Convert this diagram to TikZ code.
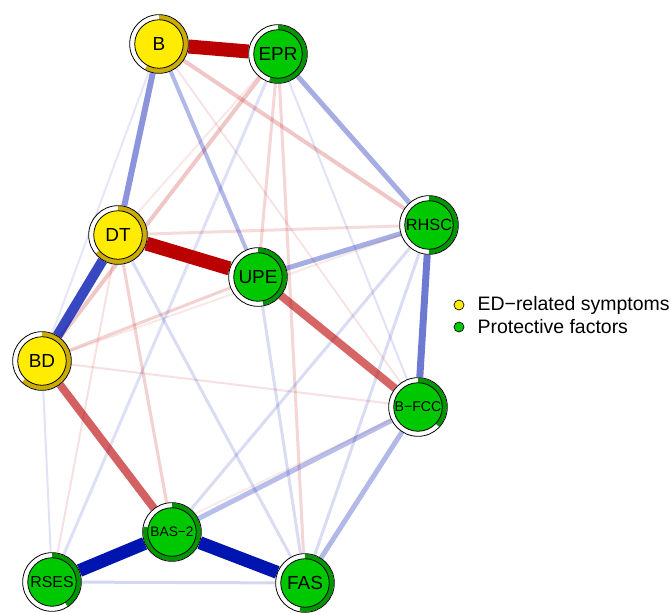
\documentclass[tikz,border=0pt]{standalone}
\usepackage{fontspec}
\setmainfont{Liberation Sans}
\usepackage{tikz}
\usetikzlibrary{calc,backgrounds,positioning}
\definecolor{symfill}{RGB}{255,236,0}
\definecolor{symarc}{RGB}{204,172,0}
\definecolor{protfill}{RGB}{0,200,0}
\definecolor{protarc}{RGB}{0,150,0}
\definecolor{posc}{RGB}{0,20,175}
\definecolor{negc}{RGB}{186,0,0}

% ring of a node: dark arc from the top, clockwise, then the inner disc
\newcommand{\ringpart}[3]{%
  \fill[#1] ($(path picture bounding box.center)+(90:21.7pt)$)
    arc[start angle=90,end angle={90-360*#3},radius=21.7pt]
    -- ($(path picture bounding box.center)+({90-360*#3}:18.2pt)$)
    arc[start angle={90-360*#3},end angle=90,radius=18.2pt] -- cycle;
  \draw[fill=#2,line width=0.6pt] (path picture bounding box.center) circle[radius=18.2pt];}

\tikzset{
  sym/.style={pienode,path picture={\ringpart{symarc}{symfill}{#1}}},
  prot/.style={pienode,path picture={\ringpart{protarc}{protfill}{#1}}},
  poscor/.style 2 args={draw=posc,line width=#1*0.75pt,draw opacity=#2},
  negcor/.style 2 args={draw=negc,line width=#1*0.75pt,draw opacity=#2}
}

\begin{document}
\begin{tikzpicture}[x=0.75pt,y=-0.75pt]
    \tikzstyle{pienode}=[circle,draw=black,fill=white,line width=0.6pt,minimum size=44pt,inner sep=0pt,font=\fontsize{14.2}{15}\selectfont]
    \tikzstyle{legdot}=[circle,draw=black,line width=0.5pt,minimum size=7.5pt,inner sep=0pt]
    \useasboundingbox (0,0) rectangle (671,613);

    \node[sym=0.58] (B) at (159,44) {B};
    \node[prot=0.55] (EPR) at (278,54) {EPR};
    \node[sym=0.64] (DT) at (118,235) {DT};
    \node[prot=0.47] (UPE) at (258,277) {UPE};
    \node[prot=0.5,font=\fontsize{12.2}{13}\selectfont] (RHSC) at (429,225) {RHSC};
    \node[sym=0.62] (BD) at (42,361) {BD};
    \node[prot=0.37,font=\fontsize{10.6}{11}\selectfont] (BFCC) at (418,407) {B−FCC};
    \node[prot=0.78,font=\fontsize{10.3}{11}\selectfont] (BAS) at (172,532) {BAS−2};
    \node[prot=0.41,font=\fontsize{11.9}{12}\selectfont] (RSES) at (52,582) {RSES};
    \node[prot=0.53] (FAS) at (305,583) {FAS};

    % legend
    \node[legdot,fill=symfill] (legsym) at (459,305) {};
    \node[legdot,fill=protfill] (legprot) at (459,327) {};
    \node[right=9.75pt of legsym,inner sep=0pt,font=\fontsize{14.6}{15}\selectfont] (legsymtext) {ED−related symptoms};
    \node[right=9.75pt of legprot,inner sep=0pt,font=\fontsize{14.6}{15}\selectfont] (legprottext) {Protective factors};

    \begin{scope}[on background layer]
    \path
    (B) edge [poscor={2}{0.1}] (BD)
    (EPR) edge [negcor={2}{0.09}] (DT)
    (BD) edge [negcor={2}{0.09}] (RHSC)
    (RSES) edge [negcor={2}{0.08}] (BFCC)
    (BD) edge [negcor={2}{0.12}] (BFCC)
    (B) edge [negcor={2}{0.11}] (BFCC)
    (BD) edge [poscor={2}{0.12}] (RSES)
    (DT) edge [negcor={2}{0.12}] (RSES)
    (EPR) edge [poscor={2}{0.12}] (BFCC)
    (EPR) edge [poscor={3}{0.13}] (RSES)
    (FAS) edge [poscor={3}{0.17}] (RSES)
    (BD) edge [negcor={3}{0.18}] (UPE)
    (DT) edge [negcor={3}{0.14}] (RHSC)
    (EPR) edge [negcor={3}{0.16}] (UPE)
    (EPR) edge [negcor={3}{0.16}] (FAS)
    (DT) edge [negcor={3}{0.18}] (BAS)
    (DT) edge [poscor={3}{0.15}] (FAS)
    (UPE) edge [poscor={3}{0.15}] (FAS)
    (RHSC) edge [poscor={3}{0.15}] (FAS)
    (RHSC) edge [poscor={3}{0.15}] (BAS)
    (B) edge [negcor={4}{0.22}] (RHSC)
    (EPR) edge [negcor={4}{0.22}] (BD)
    (B) edge [poscor={4}{0.3}] (UPE)
    (EPR) edge [poscor={5}{0.35}] (RHSC)
    (UPE) edge [poscor={5}{0.35}] (RHSC)
    (BAS) edge [poscor={5}{0.28}] (BFCC)
    (FAS) edge [poscor={5}{0.3}] (BFCC)
    (B) edge [poscor={6}{0.45}] (DT)
    (RHSC) edge [poscor={7}{0.57}] (BFCC)
    (UPE) edge [negcor={8}{0.6}] (BFCC)
    (BD) edge [negcor={8}{0.62}] (BAS)
    (DT) edge [poscor={10}{0.78}] (BD)
    (B) edge [negcor={14}{1}] (EPR)
    (DT) edge [negcor={14}{1}] (UPE)
    (BAS) edge [poscor={13}{1}] (RSES)
    (BAS) edge [poscor={13}{1}] (FAS);
    \end{scope}
\end{tikzpicture}
\end{document}
